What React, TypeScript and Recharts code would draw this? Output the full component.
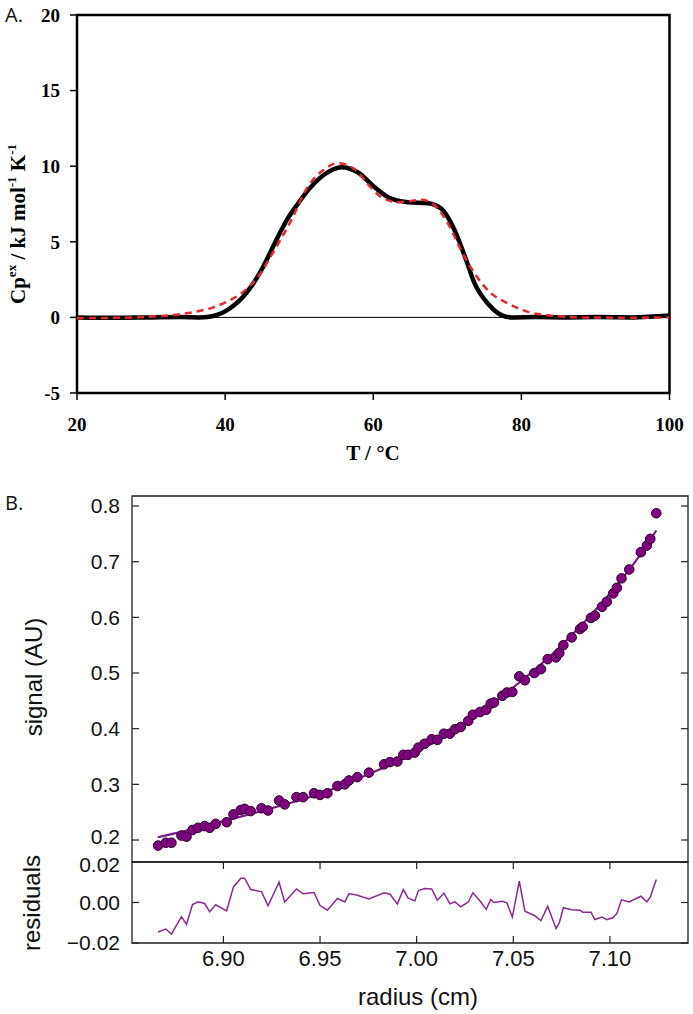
import React from "react"
import {
  ComposedChart,
  Line,
  Scatter,
  XAxis,
  YAxis,
  ReferenceArea,
  ReferenceLine,
} from "recharts"

// ---- panel A: excess heat capacity ----
const cpTemps = [20, 25, 30, 34, 36.5, 37.6, 38.8, 40, 41.2, 42.4, 43.6, 44.8, 46, 47.2, 48.4, 49.8, 51.1, 53.4, 55.7, 57.9, 60.2, 62, 64.7, 67.4, 69.2, 71, 72.4, 73.7, 75.5, 77.4, 78.7, 82, 86, 90, 95, 100]
const cpMeasured = [0, -0.03, 0, 0.02, 0, 0.03, 0.15, 0.4, 0.8, 1.35, 2.1, 3.05, 4.2, 5.4, 6.5, 7.5, 8.35, 9.45, 9.93, 9.6, 8.6, 7.95, 7.62, 7.55, 7.18, 5.75, 3.99, 2.23, 0.9, 0.13, 0, 0.02, 0, 0.02, 0, 0.12]
const fitTemps = [20, 25, 28, 31, 34, 36.5, 38.5, 40.5, 42.1, 44.4, 46.6, 48.9, 51.1, 53.4, 55.2, 57.5, 59.3, 61.1, 63.4, 64.8, 66.5, 68.3, 70.1, 71.9, 73.7, 75.5, 78.3, 81, 84.6, 88, 95, 100]
const cpFit = [-0.05, -0.03, 0, 0.08, 0.22, 0.42, 0.68, 1.1, 1.56, 2.66, 4.4, 6.4, 8.6, 9.8, 10.2, 9.8, 8.8, 7.95, 7.62, 7.68, 7.78, 7.4, 6.2, 4.4, 2.9, 1.78, 0.9, 0.35, 0.09, 0, -0.02, 0]
const tTicks = [20, 40, 60, 80, 100]
const cpTicks = [-5, 0, 5, 10, 15, 20]

// ---- panel B: sedimentation signal ----
const radius = [
  6.8662, 6.8702, 6.8731, 6.8783, 6.8809, 6.884, 6.8869, 6.8903, 6.8929, 6.896,
  6.9017, 6.9052, 6.909, 6.911, 6.9141, 6.9197, 6.9231, 6.9288, 6.9317, 6.9378,
  6.9412, 6.9469, 6.95, 6.9538, 6.959, 6.9628, 6.965, 6.9693, 6.9753, 6.9831,
  6.9862, 6.99, 6.9931, 6.9955, 6.999, 7.0009, 7.0041, 7.0078, 7.0107, 7.0141,
  7.0172, 7.0198, 7.0228, 7.0267, 7.0291, 7.0328, 7.036, 7.0383, 7.04, 7.0443,
  7.0467, 7.0495, 7.0531, 7.056, 7.0609, 7.0643, 7.0678, 7.0721, 7.0738, 7.0759,
  7.0802, 7.0845, 7.0859, 7.0902, 7.0922, 7.0959, 7.0984, 7.1017, 7.1036, 7.106,
  7.11, 7.116, 7.1191, 7.1209, 7.124,
]
const signal = [
  0.19, 0.195, 0.195, 0.208, 0.206, 0.218, 0.222, 0.225, 0.222, 0.229,
  0.232, 0.246, 0.254, 0.256, 0.252, 0.257, 0.253, 0.271, 0.264, 0.277,
  0.277, 0.284, 0.281, 0.284, 0.297, 0.3, 0.307, 0.313, 0.321, 0.336,
  0.34, 0.341, 0.353, 0.353, 0.357, 0.366, 0.373, 0.381, 0.38, 0.391,
  0.391, 0.399, 0.403, 0.414, 0.425, 0.43, 0.434, 0.445, 0.447, 0.459,
  0.465, 0.466, 0.494, 0.487, 0.5, 0.507, 0.525, 0.528, 0.536, 0.55,
  0.564, 0.579, 0.583, 0.599, 0.603, 0.619, 0.628, 0.643, 0.653, 0.67,
  0.686, 0.717, 0.729, 0.741, 0.787,
]
const residuals = [
  -0.0146, -0.0131, -0.0156, -0.007, -0.0108, -0.001, 0.0003, -0.0005, -0.0046, -0.0011,
  -0.0041, 0.0077, 0.012, 0.012, 0.0064, 0.0054, -0.0016, 0.01, 0.0002, 0.0067,
  0.0043, 0.0049, -0.0015, -0.0038, 0.002, 0.0003, 0.0044, 0.0036, 0.0018, 0.0048,
  0.0041, -0.0007, 0.0064, 0.0023, 0.0008, 0.0059, 0.0069, 0.0067, 0.0011, 0.0046,
  -0.0007, 0.0003, -0.0021, 0.0002, 0.0048, 0.0007, -0.0034, 0.0015, 0, 0.0006,
  -0.0002, -0.0072, 0.0105, -0.0043, -0.0064, -0.0089, -0.0018, -0.0128, -0.01, -0.0026,
  -0.0036, -0.0038, -0.0048, -0.0048, -0.0084, -0.0072, -0.0085, -0.0074, -0.0054, 0.0013,
  0.0003, 0.0031, 0.0003, 0.0028, 0.0113,
]
const fitRadius = [6.866, 6.88, 6.9, 6.925, 6.95, 6.975, 7.0, 7.025, 7.05, 7.075, 7.1, 7.115, 7.124]
const fitSignal = [0.205, 0.216, 0.234, 0.257, 0.283, 0.318, 0.358, 0.41, 0.474, 0.55, 0.643, 0.709, 0.756]
const radiusTicks = [6.9, 6.95, 7.0, 7.05, 7.1]
const signalTicks = [0.2, 0.3, 0.4, 0.5, 0.6, 0.7, 0.8]
const residualTicks = [-0.02, 0, 0.02]

const measuredData = cpTemps.map((T, i) => ({ T, cp: cpMeasured[i] }))
const fitData = fitTemps.map((T, i) => ({ T, cp: cpFit[i] }))
const pointData = radius.map((r, i) => ({ r, v: signal[i] }))
const fitLineData = fitRadius.map((r, i) => ({ r, v: fitSignal[i] }))
const residualData = radius.map((r, i) => ({ r, v: residuals[i] }))

const W = 693
const serif = "'Liberation Serif', 'Times New Roman', serif"
const sans = "'Liberation Sans', Arial, sans-serif"
const purple = "#800080"
const axisGrey = "#222"

// panel B geometry (chart coordinates)
const B_RIGHT = 688
const B_MARGIN_RIGHT = W - B_RIGHT
const SIG_TOP = 26
const RES_TOP = 12
const Y_TICK_MARGIN = 12
const X_TICK_MARGIN = 7
const TICK = 7

const tickStyleB = { fill: "#111", fontFamily: sans, fontSize: 21 }

// the lowest signal label and the top residual label sit right next to each other,
// nudge them apart a touch so they don't collide
function makeYTick(fmt: (v: number) => string, nudge: (v: number) => number) {
  return (props: any) => {
    const { x, y, payload } = props
    const axisX = x + Y_TICK_MARGIN
    return (
      <g>
        <line x1={axisX} x2={axisX + TICK} y1={y} y2={y} stroke={axisGrey} strokeWidth={1.2} />
        <line x1={B_RIGHT - TICK} x2={B_RIGHT} y1={y} y2={y} stroke={axisGrey} strokeWidth={1.2} />
        <text x={x} y={y + nudge(payload.value)} dy="0.355em" textAnchor="end" {...tickStyleB}>
          {fmt(payload.value)}
        </text>
      </g>
    )
  }
}

function makeXTick(top: number, withText: boolean) {
  return (props: any) => {
    const { x, y, payload } = props
    const axisY = y - X_TICK_MARGIN
    return (
      <g>
        <line x1={x} x2={x} y1={axisY} y2={axisY - TICK} stroke={axisGrey} strokeWidth={1.2} />
        <line x1={x} x2={x} y1={top} y2={top + TICK} stroke={axisGrey} strokeWidth={1.2} />
        {withText && (
          <text x={x} y={y} dy="0.71em" textAnchor="middle" {...tickStyleB} fontSize={22}>
            {payload.value.toFixed(2)}
          </text>
        )}
      </g>
    )
  }
}

function DscPanel() {
  const tickFont = { fill: "#000", fontFamily: serif, fontWeight: 700, fontSize: 19 }
  return (
    <ComposedChart width={W} height={470} margin={{ top: 15, right: 23.5, bottom: 17, left: 0 }}>
      <XAxis
        type="number"
        dataKey="T"
        domain={[20, 100]}
        ticks={tTicks}
        interval={0}
        axisLine={false}
        tickSize={7}
        tickMargin={18}
        tickLine={{ stroke: "#000", strokeWidth: 1.5 }}
        tick={tickFont}
        height={60}
        allowDataOverflow
      />
      <YAxis
        type="number"
        domain={[-5, 20]}
        ticks={cpTicks}
        interval={0}
        axisLine={false}
        tickSize={7}
        tickMargin={10}
        tickLine={{ stroke: "#000", strokeWidth: 1.5 }}
        tick={tickFont}
        width={77}
        allowDataOverflow
      />
      <ReferenceLine y={0} stroke="#000" strokeWidth={1} />
      <Line
        data={measuredData}
        dataKey="cp"
        type="monotone"
        stroke="#000"
        strokeWidth={4.5}
        dot={false}
        isAnimationActive={false}
      />
      <Line
        data={fitData}
        dataKey="cp"
        type="monotone"
        stroke="#e8262d"
        strokeWidth={2.5}
        strokeDasharray="7 5"
        dot={false}
        isAnimationActive={false}
      />
      <ReferenceArea x1={20} x2={100} y1={-5} y2={20} fill="none" stroke="#000" strokeWidth={2.5} ifOverflow="visible" />
    </ComposedChart>
  )
}

function SignalPanel() {
  return (
    <ComposedChart width={W} height={400} margin={{ top: SIG_TOP, right: B_MARGIN_RIGHT, bottom: 8, left: 0 }}>
      <XAxis
        type="number"
        dataKey="r"
        domain={[6.8527, 7.1404]}
        ticks={radiusTicks}
        interval={0}
        axisLine={false}
        tickLine={false}
        tickSize={0}
        tickMargin={X_TICK_MARGIN}
        tick={makeXTick(SIG_TOP, false)}
        height={0}
        allowDataOverflow
      />
      <YAxis
        type="number"
        dataKey="v"
        domain={[0.1605, 0.818]}
        ticks={signalTicks}
        interval={0}
        axisLine={false}
        tickLine={false}
        tickSize={0}
        tickMargin={Y_TICK_MARGIN}
        tick={makeYTick((v) => v.toFixed(1), (v) => (v < 0.25 ? -3 : 0))}
        width={132}
        allowDataOverflow
      />
      <Scatter
        data={pointData}
        isAnimationActive={false}
        shape={(p: any) => (
          <circle cx={p.cx} cy={p.cy} r={4.8} fill={purple} stroke="#2b002b" strokeWidth={1} />
        )}
      />
      <Line
        data={fitLineData}
        dataKey="v"
        type="monotone"
        stroke="#7a1a82"
        strokeWidth={2.2}
        dot={false}
        isAnimationActive={false}
      />
      <ReferenceArea x1={6.8527} x2={7.1404} y1={0.1605} y2={0.818} fill="none" stroke={axisGrey} strokeWidth={1.3} ifOverflow="visible" />
    </ComposedChart>
  )
}

function ResidualPanel() {
  return (
    <ComposedChart width={W} height={164} margin={{ top: RES_TOP, right: B_MARGIN_RIGHT, bottom: 21, left: 0 }}>
      <XAxis
        type="number"
        dataKey="r"
        domain={[6.8527, 7.1404]}
        ticks={radiusTicks}
        interval={0}
        axisLine={false}
        tickLine={false}
        tickSize={0}
        tickMargin={X_TICK_MARGIN}
        tick={makeXTick(RES_TOP, true)}
        height={50}
        allowDataOverflow
      />
      <YAxis
        type="number"
        dataKey="v"
        domain={[-0.02, 0.02]}
        ticks={residualTicks}
        interval={0}
        axisLine={false}
        tickLine={false}
        tickSize={0}
        tickMargin={Y_TICK_MARGIN}
        tick={makeYTick(
          (v) => (v < 0 ? "\u2212" : "") + Math.abs(v).toFixed(2),
          (v) => (v > 0.01 ? 3 : 0),
        )}
        width={132}
        allowDataOverflow
      />
      <Line
        data={residualData}
        dataKey="v"
        type="linear"
        stroke="#8a2a8e"
        strokeWidth={1.5}
        dot={false}
        isAnimationActive={false}
      />
      <ReferenceArea x1={6.8527} x2={7.1404} y1={-0.02} y2={0.02} fill="none" stroke={axisGrey} strokeWidth={1.3} ifOverflow="visible" />
    </ComposedChart>
  )
}

export default function App() {
  return (
    <div style={{ position: "absolute", left: 0, top: 0, width: W, height: 1014, background: "#fff" }}>
      <div style={{ position: "absolute", left: 0, top: 0 }}>
        <DscPanel />
      </div>
      <div style={{ position: "absolute", left: 0, top: 470 }}>
        <SignalPanel />
      </div>
      <div style={{ position: "absolute", left: 0, top: 850 }}>
        <ResidualPanel />
      </div>
      <svg width={W} height={1014} style={{ position: "absolute", left: 0, top: 0, pointerEvents: "none" }}>
        <text x={5} y={22} fontFamily="'Open Sans', sans-serif" fontSize={20} fill="#111">A.</text>
        <text x={5} y={510} fontFamily="'Open Sans', sans-serif" fontSize={20} fill="#111">B.</text>
        <g fontFamily={serif} fontWeight={700} fontSize={21} fill="#000">
          <text x={373} y={460} textAnchor="middle">T / °C</text>
          <text x={18} y={224} textAnchor="middle" dominantBaseline="central" transform="rotate(-90 18 224)">
            Cp<tspan dy={-7} fontSize={13}>ex</tspan>
            <tspan dy={7}> / kJ mol</tspan>
            <tspan dy={-7} fontSize={13}>-1</tspan>
            <tspan dy={7}> K</tspan>
            <tspan dy={-7} fontSize={13}>-1</tspan>
          </text>
        </g>
        <g fontFamily={sans} fontSize={24} fill="#111">
          <text x={33} y={677} textAnchor="middle" dominantBaseline="central" transform="rotate(-90 33 677)">signal (AU)</text>
          <text x={31} y={903} textAnchor="middle" dominantBaseline="central" transform="rotate(-90 31 903)">residuals</text>
          <text x={418} y={1005} textAnchor="middle">radius (cm)</text>
        </g>
      </svg>
    </div>
  )
}
